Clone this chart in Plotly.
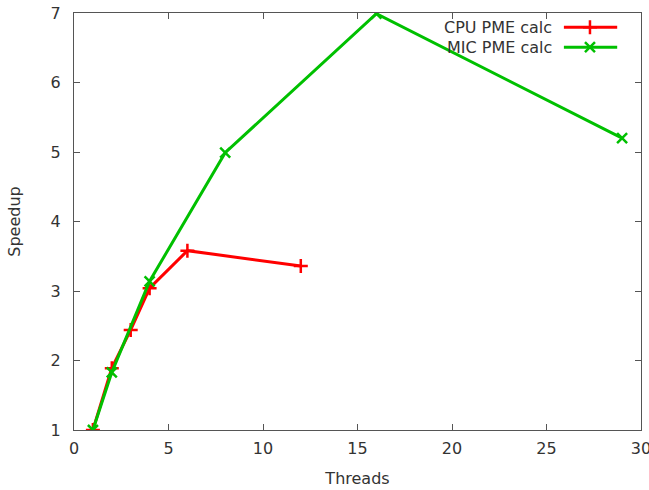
import plotly.graph_objects as go

cpu_threads = [1, 2, 3, 4, 6, 12]
cpu_speedup = [1.0, 1.89, 2.44, 3.04, 3.58, 3.36]
mic_threads = [1, 2, 4, 8, 16, 29]
mic_speedup = [1.0, 1.83, 3.14, 4.99, 6.99, 5.2]
series_names = ["CPU PME calc", "MIC PME calc"]
red = "#ff0000"
green = "#00c000"
font = "DejaVu Sans"
txt = "#333"

fig = go.Figure()
fig.add_trace(go.Scatter(x=cpu_threads, y=cpu_speedup, mode="lines+markers",
                         line=dict(color=red, width=3),
                         marker=dict(symbol="cross-thin", size=10, line=dict(color=red, width=2.5)),
                         showlegend=False))
fig.add_trace(go.Scatter(x=mic_threads, y=mic_speedup, mode="lines+markers",
                         line=dict(color=green, width=3),
                         marker=dict(symbol="x-thin", size=10, line=dict(color=green, width=2.5)),
                         showlegend=False))

# manual gnuplot-style legend (text left, sample right) on an overlay axis
leg_y = [0.966, 0.918]
for name, col, sym, yy in zip(series_names, [red, green], ["cross-thin", "x-thin"], leg_y):
    fig.add_trace(go.Scatter(x=[0.864, 0.958], y=[yy, yy], xaxis="x2", yaxis="y2", mode="lines",
                             line=dict(color=col, width=3), showlegend=False, hoverinfo="skip"))
    fig.add_trace(go.Scatter(x=[0.910], y=[yy], xaxis="x2", yaxis="y2", mode="markers",
                             marker=dict(symbol=sym, size=10, line=dict(color=col, width=2.5)),
                             showlegend=False, hoverinfo="skip"))
    fig.add_annotation(x=0.841, y=yy, xref="x2", yref="y2", text=name, showarrow=False,
                       xanchor="right", yanchor="middle", xshift=3,
                       font=dict(family=font, size=16, color=txt))

axis_common = dict(showline=True, linecolor="#555", linewidth=1, mirror="ticks",
                   ticks="inside", ticklen=6, tickcolor="#555", showgrid=False, zeroline=False,
                   tickfont=dict(family=font, size=16, color=txt), ticklabeloverflow="allow")
fig.update_layout(
    width=649, height=490,
    margin=dict(l=74, r=8, t=13, b=60, autoexpand=False),
    plot_bgcolor="white", paper_bgcolor="white",
    xaxis=dict(range=[0, 30], dtick=5, ticklabelstandoff=4,
               title=dict(text="Threads", standoff=15, font=dict(family=font, size=16, color=txt)),
               **axis_common),
    yaxis=dict(range=[1, 7], dtick=1, ticklabelstandoff=9,
               title=dict(text="Speedup", standoff=26, font=dict(family=font, size=16, color=txt)),
               **axis_common),
    xaxis2=dict(range=[0, 1], overlaying="x", visible=False, fixedrange=True),
    yaxis2=dict(range=[0, 1], overlaying="y", visible=False, fixedrange=True),
)
fig.write_html("out.html")
